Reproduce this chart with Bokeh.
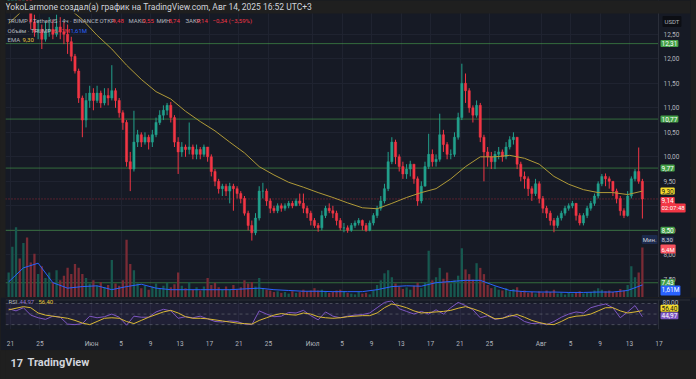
import pandas as pd
from bokeh.plotting import figure
from bokeh.models import (Range1d, FixedTicker, CustomJSTickFormatter, Span, Label,
                          BoxAnnotation, ColumnDataSource)
from bokeh.layouts import column
from bokeh.embed import file_html
from bokeh.resources import INLINE

# ---------------- data (12h candles) ----------------
first_open = 13.2
closes = [13.4, 13.6, 13.9, 13.5, 13.7, 13.2,
          12.75, 12.55, 12.6, 12.4, 12.55, 12.6, 12.5, 12.65, 12.55, 12.5, 12.35,
          12.05, 11.75, 11.2, 10.75, 11.15, 11.3,
          11.15, 11.3, 11.1, 11.25, 11.2, 11.35, 11.15, 10.9, 10.7, 9.9, 9.75,
          10.3, 10.45, 10.3, 10.4, 10.3, 10.45, 10.7, 10.85, 10.95, 11.05, 10.8,
          10.3, 10.1, 10.2, 10.15, 10.2, 10.05, 10.15, 10.05, 10.2, 10.0,
          9.7, 9.5, 9.35, 9.4, 9.3, 9.4, 9.35, 9.25, 9.15, 8.85, 8.6, 8.45,
          8.75, 9.3, 9.3, 9.1, 8.95, 8.9, 9.0, 8.95, 9.0, 9.05, 9.0, 9.1, 9.05,
          8.95, 8.85, 8.7, 8.6, 8.55, 8.8, 8.95, 8.9, 8.85, 8.7, 8.55, 8.55, 8.5,
          8.6, 8.65, 8.7, 8.6, 8.5, 8.65, 8.8, 8.95, 9.1, 9.35, 9.9, 10.3,
          10.0, 9.8, 9.65, 9.75, 9.85, 9.55, 9.1, 9.4, 9.8, 10.05, 9.9, 9.95,
          10.45, 10.25, 10.05, 10.05, 10.4, 10.8, 11.5, 11.35, 11.0, 10.85, 11.05, 10.4,
          10.1, 10.0, 9.9, 10.05, 10.1, 10.0, 10.2, 10.35, 10.4, 9.85, 9.6, 9.55,
          9.35, 9.25, 9.45, 9.15, 8.95, 8.85, 8.7, 8.6, 8.75, 8.85, 8.95, 9.0,
          9.05, 8.8, 8.65, 8.8, 8.95, 9.05, 9.2, 9.45, 9.6, 9.55, 9.5, 9.3,
          9.15, 8.9, 8.8, 9.2, 9.55, 9.7, 9.5, 9.14]
highs = [13.8, 13.9, 14.1, 13.95, 13.9, 13.75,
         13.3, 12.9, 12.8, 12.7, 12.75, 12.85, 12.8, 12.9, 12.85, 12.75, 12.7,
         12.45, 12.1, 11.8, 11.25, 11.3, 11.45,
         11.4, 11.45, 11.35, 11.4, 11.4, 11.87, 11.4, 11.2, 10.95, 10.75, 10.1,
         10.94, 10.55, 10.5, 10.5, 10.45, 10.55, 10.8, 10.95, 11.05, 11.1, 11.12,
         10.85, 10.4, 10.3, 10.25, 10.7, 10.25, 10.25, 10.2, 10.25, 10.2,
         10.05, 9.75, 9.55, 9.45, 9.45, 9.47, 9.45, 9.4, 9.3, 9.2, 8.9, 8.7,
         8.85, 9.4, 9.47, 9.35, 9.15, 9.0, 9.05, 9.05, 9.05, 9.1, 9.1, 9.15, 9.25,
         9.25, 9.0, 8.9, 8.75, 8.65, 8.9, 9.0, 9.05, 9.0, 8.9, 8.75, 8.65, 8.6,
         8.65, 8.7, 8.75, 8.72, 8.65, 8.7, 8.85, 9.0, 9.2, 9.45, 10.1, 10.4,
         10.35, 10.05, 9.9, 9.85, 9.92, 9.85, 9.6, 9.5, 9.9, 10.47, 10.15, 10.05,
         10.88, 10.55, 10.3, 10.15, 10.5, 10.9, 11.9, 11.7, 11.4, 11.05, 11.15, 11.1,
         10.45, 10.2, 10.1, 10.12, 10.2, 10.15, 10.3, 10.42, 10.5, 10.4, 9.9, 9.7,
         9.6, 9.4, 9.55, 9.5, 9.2, 9.0, 8.9, 8.75, 8.8, 8.9, 9.0, 9.05,
         9.1, 9.05, 8.85, 8.85, 9.0, 9.1, 9.25, 9.5, 9.65, 9.66, 9.6, 9.5,
         9.35, 9.2, 8.95, 9.3, 9.6, 9.75, 10.19, 9.55]
lows = [13.1, 13.3, 13.4, 13.3, 13.35, 13.0,
        12.6, 12.45, 12.4, 12.2, 12.35, 12.45, 12.4, 12.45, 12.4, 12.3, 12.1,
        11.95, 11.7, 11.1, 10.4, 10.6, 11.0,
        10.95, 11.1, 11.0, 11.05, 11.05, 11.15, 11.0, 10.8, 10.55, 9.8, 9.3,
        9.7, 10.2, 10.2, 10.25, 10.15, 10.2, 10.4, 10.65, 10.75, 10.85, 10.7,
        10.2, 9.65, 10.0, 10.0, 10.05, 9.95, 9.95, 9.95, 10.0, 9.9,
        9.6, 9.4, 9.25, 9.2, 9.2, 9.05, 8.9, 9.15, 9.05, 8.8, 8.5, 8.29,
        8.4, 8.7, 9.15, 9.0, 8.85, 8.85, 8.85, 8.88, 8.9, 8.95, 8.95, 9.0, 9.0,
        8.85, 8.75, 8.6, 8.55, 8.47, 8.5, 8.75, 8.85, 8.75, 8.6, 8.5, 8.46, 8.45,
        8.47, 8.55, 8.6, 8.5, 8.47, 8.48, 8.6, 8.75, 8.9, 9.05, 9.3, 9.85,
        9.85, 9.7, 9.55, 9.55, 9.6, 9.45, 9.0, 9.05, 9.4, 9.75, 9.8, 9.8,
        9.9, 10.1, 9.95, 9.95, 10.0, 10.35, 10.75, 11.1, 10.9, 10.7, 10.8, 10.3,
        9.5, 9.8, 9.75, 9.75, 9.95, 9.9, 9.95, 10.15, 10.25, 9.75, 9.5, 9.35,
        9.2, 9.1, 9.2, 9.05, 8.85, 8.75, 8.6, 8.46, 8.55, 8.7, 8.8, 8.9,
        8.95, 8.7, 8.6, 8.6, 8.75, 8.9, 9.0, 9.15, 9.4, 9.4, 9.35, 9.2,
        9.05, 8.8, 8.75, 8.78, 9.15, 9.5, 9.45, 8.74]
volumes_m = [3.2, 6.5, 9.0, 5.0, 7.0, 7.7, 4.5, 5.6, 3.0, 4.0, 2.5, 3.2, 2.0, 3.5, 2.2, 2.8, 3.8,
             3.0, 4.3, 3.8, 3.0, 2.5, 1.8, 2.2, 1.5, 2.0, 1.3, 1.6, 4.8, 1.8, 1.5, 2.2, 7.4, 4.3,
             3.5, 1.8, 1.2, 1.5, 1.0, 1.4, 1.8, 1.2, 1.5, 1.9, 1.3, 1.7, 3.2, 1.5, 1.2, 2.0, 1.0,
             1.3, 0.9, 1.4, 2.5, 1.6, 1.9, 1.3, 1.0, 1.4, 1.1, 1.6, 1.0, 1.3, 2.2, 1.8, 2.0, 1.4,
             2.5, 1.2, 1.0, 0.9, 0.7, 0.8, 0.6, 0.7, 0.5, 0.8, 0.6, 0.7, 1.0, 0.8, 0.9, 1.2, 0.9,
             1.0, 0.8, 0.6, 0.7, 0.9, 1.0, 0.8, 0.6, 0.5, 0.4, 0.7, 0.5, 0.6, 0.4, 0.9, 1.6, 2.2,
             3.1, 3.5, 2.6, 1.8, 1.4, 1.1, 1.3, 1.0, 1.5, 1.9, 1.2, 2.0, 6.0, 2.2, 2.6, 3.8, 2.4,
             3.2, 1.8, 2.2, 2.8, 6.3, 3.6, 3.0, 2.3, 4.4, 3.8, 3.0, 1.6, 1.2, 1.4, 1.0, 0.9, 1.2,
             0.8, 1.1, 1.3, 0.8, 0.9, 0.6, 0.7, 0.5, 0.8, 0.6, 0.9, 0.7, 1.0, 0.5, 0.6, 0.4, 0.7,
             0.5, 0.6, 0.8, 0.5, 0.6, 0.7, 0.9, 1.2, 1.0, 0.8, 0.9, 0.7, 0.8, 1.1, 0.9, 1.6, 4.0,
             2.6, 3.2, 6.4]
# indicator readings: every 4th candle (EMA, volume MA), every 2nd candle (RSI, RSI MA)
ema_every4 = [12.72, 13.0, 13.1, 13.12, 13.05, 12.8, 12.48, 12.2, 11.87, 11.58, 11.33,
              11.18, 10.93, 10.72, 10.53, 10.3, 10.08, 9.8, 9.63, 9.48, 9.38, 9.27,
              9.17, 9.06, 8.96, 8.94, 9.05, 9.17, 9.27, 9.35, 9.55, 9.8, 10.0, 10.0,
              10.03, 9.97, 9.85, 9.6, 9.44, 9.33, 9.27, 9.27, 9.23, 9.30]
volma_every4 = [2.0, 3.8, 4.4, 1.9, 1.2, 1.4, 1.5, 1.0, 1.4, 1.7, 1.2, 1.0, 1.0, 1.0, 1.0,
                1.0, 1.1, 1.2, 1.0, 0.9, 0.8, 0.8, 0.75, 0.75, 0.75, 1.0, 1.4, 1.5, 1.45,
                1.9, 2.05, 2.2, 2.2, 1.5, 0.9, 0.75, 0.7, 0.7, 0.65, 0.65, 0.7, 0.7, 0.9, 1.61]
rsi_every2 = [60, 56, 62, 48, 43, 40, 46, 44, 31, 30, 32, 46, 43, 45, 50, 44, 29, 46, 44, 44,
              54, 59, 56, 42, 45, 43, 46, 41, 36, 35, 37, 36, 31, 30, 56, 50, 45, 46, 53, 52,
              57, 47, 39, 54, 46, 43, 46, 48, 49, 52, 62, 72, 75, 60, 55, 50, 55, 50, 58, 50,
              62, 72, 66, 58, 43, 47, 40, 42, 48, 45, 36, 32, 33, 30, 36, 44, 50, 54, 52, 62,
              66, 69, 62, 43, 54, 66, 44.97]
rsima_every2 = [58, 61, 64, 62, 52, 48, 46, 44, 42, 38, 33, 30, 36, 42, 43, 42, 36, 32, 38, 44,
                49, 54, 57, 52, 45, 42, 42, 41, 39, 37, 35, 33, 32, 31, 38, 43, 48, 51, 49, 48,
                52, 50, 45, 43, 42, 43, 45, 46, 47, 47, 52, 62, 69, 66, 62, 56, 52, 53, 54, 55,
                57, 61, 64, 60, 55, 48, 41, 42, 46, 49, 44, 38, 34, 31, 30, 36, 43, 46, 47, 50,
                56, 62, 62, 56, 52, 54, 56.4]
level_prices = [12.31, 10.77, 9.77, 8.50, 7.43]
level_labels = ["12,31", "10,77", "9,77", "8,50", "7,43"]
price_ticks = [7.5, 8.0, 8.5, 9.0, 9.5, 10.0, 10.5, 11.0, 11.5, 12.0, 12.5]
tick_dates = ["2025-05-21", "2025-05-25", "2025-06-01", "2025-06-05", "2025-06-09",
              "2025-06-13", "2025-06-17", "2025-06-21", "2025-06-25", "2025-07-01",
              "2025-07-05", "2025-07-09", "2025-07-13", "2025-07-17", "2025-07-21",
              "2025-07-25", "2025-08-01", "2025-08-05", "2025-08-09", "2025-08-13",
              "2025-08-17"]
tick_labels = ["21", "25", "Июн", "5", "9", "13", "17", "21", "25", "Июл",
               "5", "9", "13", "17", "21", "25", "Авг", "5", "9", "13", "17"]
last_price, ema_last, vol_last, volma_last = 9.14, 9.30, 6.4, 1.61
rsi_last, rsima_last, range_low = 44.97, 56.40, 8.29

# ---------------- styling ----------------
FONT = "Roboto"
PANE = "#161a25"
OUTER = "#1f1f1f"
GRID = "#1f2330"
SEP = "#2a2e39"
TXT = "#b2b5be"
GREEN = "#22a08c"
RED = "#f23645"
VGREEN = "#17584f"
VRED = "#7a2b35"
EMA_COL = "#b09a38"
LVL = "#4caf50"

times = pd.date_range("2025-05-20 12:00", periods=len(closes), freq="12h")
centers = times + pd.Timedelta(hours=6)
opens = [first_open] + closes[:-1]
up = [c >= o for o, c in zip(opens, closes)]
src = ColumnDataSource(dict(
    x=centers, h=highs, l=lows,
    top=[max(o, c) for o, c in zip(opens, closes)],
    bot=[min(o, c) for o, c in zip(opens, closes)],
    col=[GREEN if u else RED for u in up],
    vol=volumes_m, vcol=[VGREEN if u else VRED for u in up]))
W = 12 * 3600 * 1000
tick_ms = [pd.Timestamp(d).value / 1e6 for d in tick_dates]
xr = Range1d(pd.Timestamp("2025-05-20 07:43"), pd.Timestamp("2025-08-21 06:43"))
scale_edge = pd.Timestamp("2025-08-16 22:30").value / 1e6   # left edge of the price scale
fmt_price = CustomJSTickFormatter(code="return tick.toFixed(2).replace('.', ',');")


def lab(fig, text, x, y, color=TXT, bg=None, size="6px", xu="screen", yu="screen",
        rn="default", align="left", yoff=0, pad=0, bold=False):
    kw = dict(x=x, y=y, x_units=xu, y_units=yu, text=text, text_color=color,
              text_font=FONT, text_font_size=size, text_align=align,
              text_baseline="middle", y_range_name=rn, y_offset=yoff)
    if bg is not None:
        kw.update(background_fill_color=bg, padding=pad, border_radius=1)
    if bold:
        kw.update(text_font_style="bold")
    fig.add_layout(Label(**kw))


# ---------------- main price pane ----------------
p = figure(width=696, height=297, x_axis_type="datetime", x_range=xr,
           y_range=Range1d(7.129, 13.19), x_axis_location=None, y_axis_location="right",
           toolbar_location=None, output_backend="svg",
           min_border_left=5, min_border_right=6, min_border_top=0, min_border_bottom=0,
           background_fill_color=PANE, border_fill_color=OUTER, outline_line_color=None)
p.extra_y_ranges = {"vol": Range1d(0, 38.08)}
p.xgrid.ticker = FixedTicker(ticks=tick_ms)
p.xgrid.grid_line_color = GRID
p.ygrid.ticker = FixedTicker(ticks=price_ticks)
p.ygrid.grid_line_color = GRID
ax = p.yaxis[0]
ax.ticker = FixedTicker(ticks=price_ticks)
ax.formatter = fmt_price
ax.major_tick_line_color = None
ax.minor_tick_line_color = None
ax.axis_line_color = None
ax.major_tick_out = 0
ax.major_label_standoff = -27
ax.major_label_text_color = TXT
ax.major_label_text_font = FONT
ax.major_label_text_font_size = "6.5px"

for lv in level_prices:
    p.add_layout(Span(location=lv, dimension="width", line_color=LVL, line_alpha=0.55,
                      line_width=1, level="underlay"))
p.add_layout(Span(location=last_price, dimension="width", line_color=RED, line_alpha=0.6,
                  line_dash="1 2", line_width=1, level="underlay"))
p.add_layout(BoxAnnotation(left=scale_edge, fill_color=PANE, fill_alpha=1, line_color=None,
                           level="underlay"))
p.add_layout(Span(location=scale_edge, dimension="height", line_color=SEP, line_width=1,
                  level="underlay"))

p.vbar(x="x", width=W * 0.62, top="vol", bottom=0, fill_color="vcol", line_color=None,
       y_range_name="vol", source=src)
p.line(x=centers[::4], y=volma_every4, line_color="#2962ff", line_width=1, y_range_name="vol")
p.segment(x0="x", y0="l", x1="x", y1="h", line_color="col", line_width=1, source=src)
p.vbar(x="x", width=W * 0.6, top="top", bottom="bot", fill_color="col", line_color="col",
       line_width=0.5, source=src)
p.line(x=centers[::4], y=ema_every4, line_color=EMA_COL, line_width=1)

# top band (outer colour) and title
p.add_layout(BoxAnnotation(bottom=12.925, fill_color=OUTER, fill_alpha=1, line_color=None))
lab(p, "YokoLarmone создал(а) график на TradingView.com, Авг 14, 2025 16:52 UTC+3",
    0, 291, color="#d1d4dc", size="8.5px")

# legend rows
lab(p, "TRUMP / TetherUS · 4ч · BINANCE", 2, 277)
for t, x, v, xv in [("ОТКР", 94, "9,48", 107), ("МАКС", 123, "9,55", 137),
                    ("МИН", 151, "8,74", 163), ("ЗАКР", 180, "9,14", 191)]:
    lab(p, t, x, 277)
    lab(p, v, xv, 277, color=RED)
lab(p, "−0,34 (−3,59%)", 207, 277, color=RED)
lab(p, "Объём · TRUMP", 2, 267.5)
lab(p, "6,41M", 48, 267.5, color=RED)
lab(p, "1,61M", 65, 267.5, color="#2962ff")
lab(p, "EMA", 2, 258)
lab(p, "9,30", 17, 258, color="#e8c53a")

# price-scale boxes
AX = 655
lab(p, "USDT", AX + 2, 276, color=TXT, bg="#0c0e14", size="6px", pad=2)
for lv, lt in zip(level_prices, level_labels):
    lab(p, lt, AX, lv, color="#ffffff", bg="#43a047", yu="data", size="6.5px", pad=1)
lab(p, "9,30", AX, ema_last, color="#131722", bg="#f5dc2c", yu="data", size="6.5px", pad=1)
lab(p, "9,14", AX, last_price, color="#ffffff", bg=RED, yu="data", size="6.5px", pad=1, yoff=-1.5)
lab(p, "02:07:48", AX, last_price, color="#ffffff", bg=RED, yu="data", size="6px", pad=1, yoff=-9)
lab(p, "Мин.", 652, range_low, color="#d1d4dc", bg="#1c2a4d", yu="data", size="6px",
    align="right", pad=1, yoff=1)
lab(p, "8,30", AX, range_low, color="#d1d4dc", bg="#1c2a4d", yu="data", size="6px", pad=1, yoff=1)
lab(p, "6,4M", AX, vol_last, color="#ffffff", bg="#f7525f", yu="data", rn="vol",
    size="6px", pad=1, yoff=-1.5)
lab(p, "1,61M", AX, volma_last, color="#ffffff", bg="#2962ff", yu="data", rn="vol",
    size="6.5px", pad=1, yoff=-5.5)

# ---------------- RSI pane ----------------
r = figure(width=696, height=53, x_axis_type="datetime", x_range=xr,
           y_range=Range1d(20.83, 77.5), y_axis_location="right",
           toolbar_location=None, output_backend="svg",
           min_border_left=5, min_border_right=6, min_border_top=2, min_border_bottom=17,
           background_fill_color=PANE, border_fill_color=PANE, outline_line_color=None)
r.ygrid.visible = False
r.xgrid.ticker = FixedTicker(ticks=tick_ms)
r.xgrid.grid_line_color = GRID
xa = r.xaxis[0]
xa.ticker = FixedTicker(ticks=tick_ms)
xa.formatter = CustomJSTickFormatter(args=dict(tvals=tick_ms, tlabs=tick_labels), code="""
const i = tvals.findIndex(t => Math.abs(t - tick) < 3600000);
return i >= 0 ? tlabs[i] : '';
""")
xa.axis_line_color = None
xa.major_tick_line_color = None
xa.minor_tick_line_color = None
xa.major_label_text_color = TXT
xa.major_label_text_font = FONT
xa.major_label_text_font_size = "6.5px"
xa.major_label_standoff = 4
ya = r.yaxis[0]
ya.ticker = FixedTicker(ticks=[])
ya.axis_line_color = None
ya.major_tick_line_color = None
ya.minor_tick_line_color = None

r.add_layout(BoxAnnotation(bottom=30, top=70, right=scale_edge, fill_color="#7e57c2",
                           fill_alpha=0.1, line_color=None, level="underlay"))
for lv in (70, 50, 30):
    r.add_layout(Span(location=lv, dimension="width", line_color="#787b86", line_alpha=0.5,
                      line_dash="3 3", line_width=1, level="underlay"))
r.add_layout(BoxAnnotation(left=scale_edge, fill_color=PANE, fill_alpha=1, line_color=None,
                           level="underlay"))
r.add_layout(Span(location=scale_edge, dimension="height", line_color=SEP, line_width=1,
                  level="underlay"))
r.add_layout(Span(location=77.4, dimension="width", line_color=SEP, line_width=2))
r.line(x=centers[::2], y=rsi_every2, line_color="#7e57c2", line_width=1)
r.line(x=centers[::2], y=rsima_every2, line_color="#d9b834", line_width=1)
lab(r, "RSI", 3, 28)
lab(r, "44,97", 14, 28, color="#9575cd")
lab(r, "56,40", 33, 28, color="#e8c53a")
lab(r, "80,00", AX + 2, 77.5, color=TXT, yu="data", size="6.5px", yoff=-3)
lab(r, "56,40", AX, rsima_last, color="#131722", bg="#f5dc2c", yu="data", size="6.5px", pad=1, yoff=2.5)
lab(r, "44,97", AX, rsi_last, color="#ffffff", bg="#7e57c2", yu="data", size="6.5px", pad=1, yoff=1)

# ---------------- logo band ----------------
g = figure(width=696, height=29, x_range=Range1d(0, 1), y_range=Range1d(0, 1),
           x_axis_location=None, y_axis_location=None, toolbar_location=None,
           output_backend="svg", min_border=0,
           background_fill_color=OUTER, border_fill_color=OUTER, outline_line_color=None)
g.grid.visible = False
lab(g, "17", 5, 17, color="#d1d4dc", size="11px", bold=True)
lab(g, "TradingView", 22, 17, color="#d1d4dc", size="11px", bold=True)

layout = column(p, r, g, spacing=0)
html = file_html(layout, INLINE)
html = html.replace("<body>", '<body style="background-color:#1f1f1f;">')
open("out.html", "w").write(html)
